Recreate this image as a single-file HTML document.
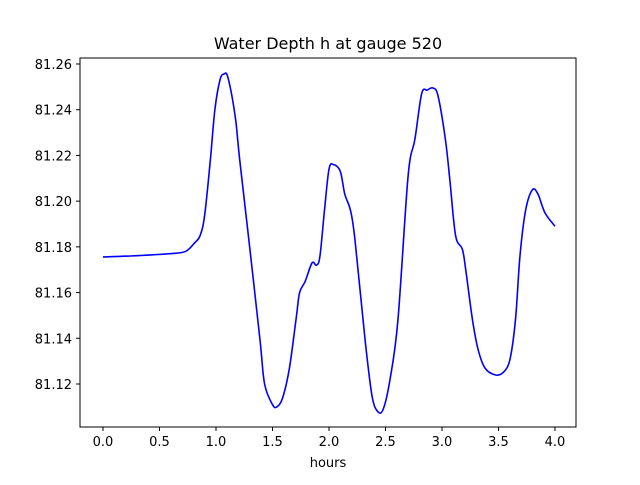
<!DOCTYPE html>
<html><head><meta charset="utf-8"><style>
body{margin:0;background:#fff;}
svg text{font-family:"DejaVu Sans","Liberation Sans",sans-serif;}
</style></head><body>
<svg width="640" height="480" xmlns="http://www.w3.org/2000/svg">
<rect width="640" height="480" fill="#fff"/>
<text x="328" y="49" text-anchor="middle" font-size="16">Water Depth h at gauge 520</text>
<g id="plot"></g>
<rect x="80" y="58" width="496" height="369" fill="none" stroke="#000" stroke-width="1"/>
<text x="328" y="467" text-anchor="middle" font-size="13">hours</text>
</svg>
<script>
const hours=[0,0.24,0.59,0.73,0.81,0.86,0.90,0.95,0.99,1.035,1.07,1.106,1.17,1.21,1.30,1.39,1.43,1.50,1.54,1.59,1.65,1.71,1.74,1.79,1.85,1.89,1.92,1.96,2.00,2.04,2.10,2.14,2.19,2.23,2.32,2.38,2.43,2.48,2.54,2.61,2.70,2.76,2.82,2.87,2.92,2.965,3.03,3.07,3.12,3.18,3.21,3.27,3.32,3.38,3.47,3.54,3.60,3.65,3.69,3.74,3.80,3.85,3.91,4.0];
const depth=[81.1756,81.176,81.177,81.178,81.1817,81.185,81.194,81.218,81.240,81.253,81.2556,81.254,81.237,81.218,81.179,81.139,81.12,81.111,81.11,81.114,81.127,81.149,81.160,81.165,81.173,81.172,81.176,81.196,81.214,81.216,81.213,81.203,81.196,81.183,81.139,81.115,81.108,81.109,81.122,81.148,81.211,81.227,81.247,81.2486,81.2495,81.246,81.227,81.209,81.185,81.179,81.170,81.148,81.135,81.127,81.124,81.125,81.1305,81.148,81.176,81.196,81.205,81.203,81.195,81.189];
const xTicks=[0,0.5,1,1.5,2,2.5,3,3.5,4];
const xTickLabels=["0.0","0.5","1.0","1.5","2.0","2.5","3.0","3.5","4.0"];
const yTicks=[81.12,81.14,81.16,81.18,81.20,81.22,81.24,81.26];
const yTickLabels=["81.12","81.14","81.16","81.18","81.20","81.22","81.24","81.26"];
const X=t=>103+113*t;
const Y=v=>64+(81.26-v)*2285.7;
const NS="http://www.w3.org/2000/svg";
const g=document.getElementById('plot');
function mk(tag,attrs){const e=document.createElementNS(NS,tag);for(const k in attrs)e.setAttribute(k,attrs[k]);return e;}
xTicks.forEach((t,i)=>{
 const l=mk('line',{x1:X(t),x2:X(t),y1:427,y2:431,stroke:'#000'});
 
 
 g.appendChild(l);
 const tx=mk('text',{x:X(t),y:446,'text-anchor':'middle','font-size':13});
 
 
 tx.textContent=xTickLabels[i];g.appendChild(tx);
});
yTicks.forEach((v,i)=>{
 const l=mk('line',{x1:76,x2:80,y1:Y(v),y2:Y(v),stroke:'#000'});
 
 
 g.appendChild(l);
 const tx=mk('text',{x:72,y:Y(v)+5,'text-anchor':'end','font-size':13});
 
 
 tx.textContent=yTickLabels[i];g.appendChild(tx);
});
const pts=hours.map((t,i)=>[X(t),Y(depth[i])]);
let d='M'+pts[0][0]+','+pts[0][1];
for(let i=0;i<pts.length-1;i++){
 const p0=pts[Math.max(0,i-1)],p1=pts[i],p2=pts[i+1],p3=pts[Math.min(pts.length-1,i+2)];
 const c1=[p1[0]+(p2[0]-p0[0])/6,p1[1]+(p2[1]-p0[1])/6];
 const c2=[p2[0]-(p3[0]-p1[0])/6,p2[1]-(p3[1]-p1[1])/6];
 d+=` C${c1[0]},${c1[1]} ${c2[0]},${c2[1]} ${p2[0]},${p2[1]}`;
}
const path=mk('path',{d:d,fill:'none',stroke:'#0000ff','stroke-width':1.6});


g.appendChild(path);
</script>
</body></html>
